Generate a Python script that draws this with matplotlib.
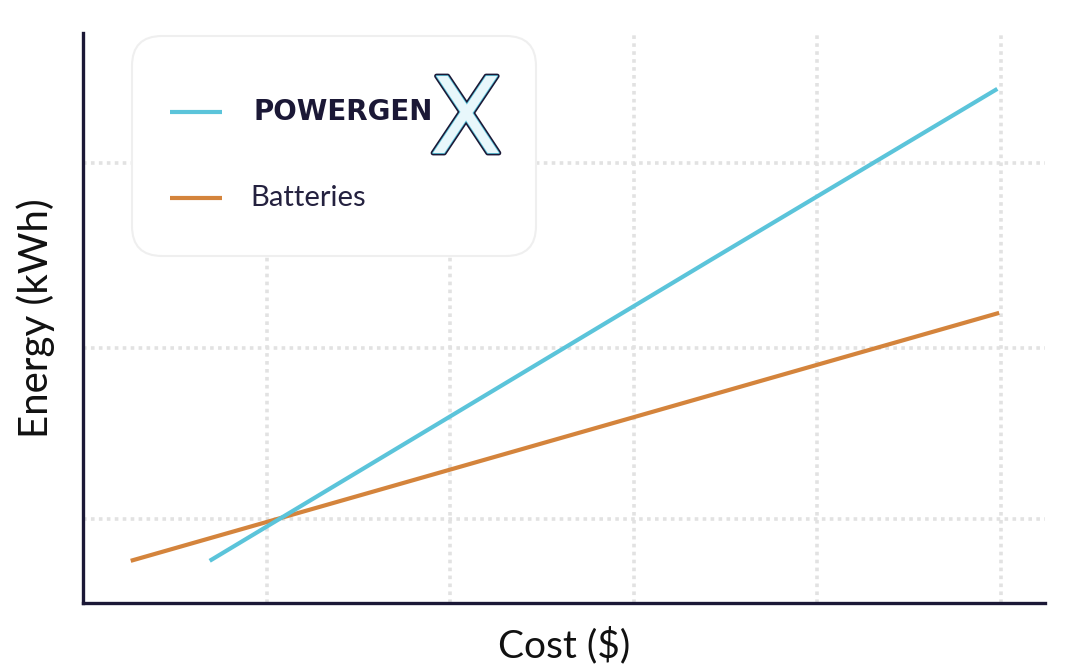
import matplotlib.pyplot as plt
from matplotlib.patches import FancyBboxPatch
import matplotlib.patheffects as pe

# Dados (unidades arbitrarias)
custo_powergen = [0.69, 3.42, 4.98]
energia_powergen = [0.74, 6.02, 9.02]
custo_baterias = [0.26, 4.00, 4.99]
energia_baterias = [0.74, 4.18, 5.09]

xticks = [1, 2, 3, 4, 5]
yticks = [1.47, 4.47, 7.72]

azul = '#5bc4da'
laranja = '#d4843c'
navy = '#1b1836'

plt.rcParams['font.family'] = ['Lato', 'DejaVu Sans']

fig = plt.figure(figsize=(10.69, 6.72), dpi=100)
ax = fig.add_axes([83 / 1069, 69 / 672, 962 / 1069, 570 / 672])

ax.plot(custo_baterias, energia_baterias, color=laranja, lw=3, solid_capstyle='butt', zorder=3)
ax.plot(custo_powergen, energia_powergen, color=azul, lw=3, solid_capstyle='butt', zorder=3)

ax.set_xlim(0, 962 / 183.6)
ax.set_ylim(0, 10)
ax.set_xticks(xticks)
ax.set_yticks(yticks)
ax.tick_params(length=0, labelbottom=False, labelleft=False)
ax.grid(True, color='#e2e2e2', lw=2.6, linestyle=(0, (1, 1.2)), zorder=1)

for lado in ['top', 'right']:
    ax.spines[lado].set_visible(False)
for lado in ['left', 'bottom']:
    ax.spines[lado].set_color(navy)
    ax.spines[lado].set_linewidth(2.4)

ax.set_xlabel('Cost ($)', fontsize=28, color='#111111', labelpad=17)
ax.set_ylabel('Energy (kWh)', fontsize=29, color='#111111', labelpad=20)

# Legenda desenhada a mao (caixa arredondada com logo)
leg = fig.add_axes([130 / 1069, 414 / 672, 408 / 1069, 224 / 672])
leg.set_xlim(0, 408)
leg.set_ylim(0, 224)
leg.axis('off')
leg.add_patch(FancyBboxPatch((2, 2), 404, 220, boxstyle='round,pad=0,rounding_size=30',
                             facecolor='white', edgecolor='#efefef', lw=1.5))
leg.plot([40, 92], [146, 146], color=azul, lw=3, solid_capstyle='butt')
leg.plot([40, 92], [60, 60], color=laranja, lw=3, solid_capstyle='butt')
leg.text(123, 146, 'POWERGEN', fontsize=20, fontweight='bold', color=navy,
         family='DejaVu Sans', va='center', ha='left')
leg.text(336, 134, 'X', fontsize=76, color='#e8f7fb', family='DejaVu Sans',
         va='center', ha='center',
         path_effects=[pe.Stroke(linewidth=3.5, foreground=navy),
                       pe.Stroke(linewidth=1.2, foreground=azul), pe.Normal()])
leg.text(120, 60, 'Batteries', fontsize=21, color='#24213f', va='center', ha='left')

plt.savefig('out.png', dpi=100)
